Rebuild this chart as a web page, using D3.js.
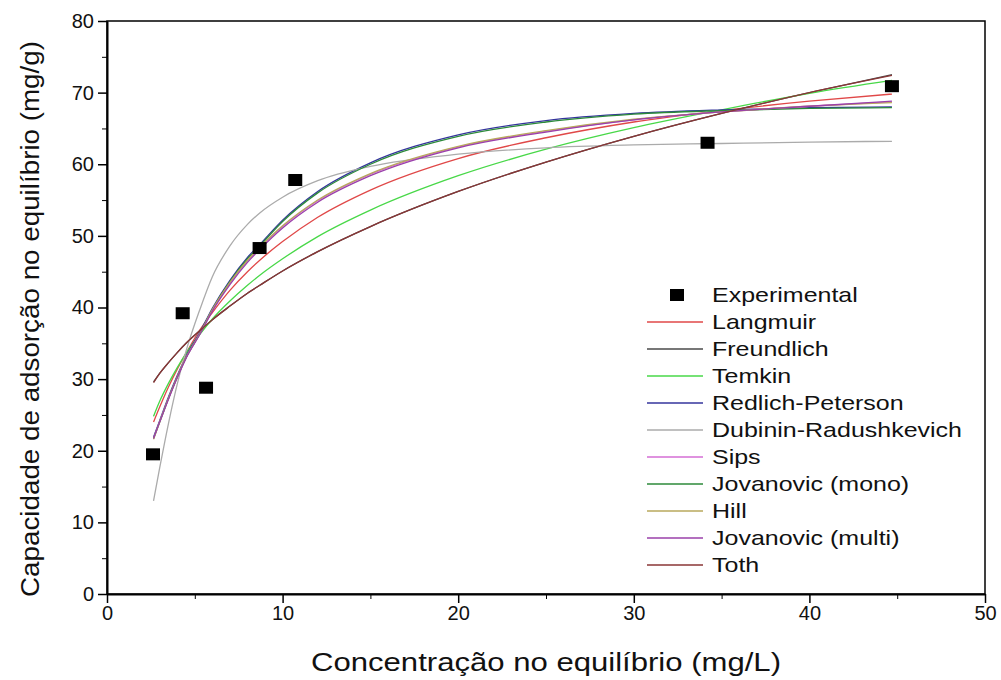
<!DOCTYPE html>
<html>
<head>
  <title>Isotermas de adsorção</title>
  <script src="https://d3js.org/d3.v7.min.js"></script>
  <style>
    body {
      margin: 0;
      background: #fff;
    }
    svg text {
      font-family: "Liberation Sans", Arial, Helvetica, sans-serif;
    }
    .axis path, .axis line {
      stroke: #000;
    }
    .axis text {
      font-size: 20px;
      fill: #111;
    }
  </style>
</head>
<body>

<div id="chart"></div>

<script>
  // experimental points
  const expC = [2.62, 4.31, 5.64, 8.69, 10.72, 34.2, 44.7];
  const expQ = [19.5, 39.2, 28.8, 48.3, 57.8, 63.0, 70.9];

  // model curves at these concentrations
  const sampleC = [2.65, 3, 3.5, 4, 4.5, 5.3, 6, 7, 8, 8.7, 10, 12, 15, 20, 25, 30, 35, 40, 44.7];

  const langmuir  = [24.0, 26.1, 28.9, 31.4, 33.6, 36.9, 39.3, 42.4, 45.0, 46.6, 49.2, 52.6, 56.4, 60.8, 63.7, 65.9, 67.5, 68.8, 69.8];
  const freundlich = [29.6, 30.8, 32.3, 33.7, 35.0, 36.8, 38.3, 40.2, 42.0, 43.1, 45.1, 47.8, 51.3, 56.2, 60.3, 63.9, 67.1, 70.0, 72.5];
  const temkin    = [24.8, 26.9, 29.4, 31.6, 33.6, 36.3, 38.4, 40.9, 43.1, 44.5, 46.8, 49.9, 53.6, 58.4, 62.1, 65.1, 67.6, 69.9, 71.7];
  const redlich   = [21.9, 24.2, 27.5, 30.5, 33.2, 36.6, 39.9, 43.8, 47.0, 48.8, 52.2, 56.2, 60.2, 64.1, 66.1, 67.1, 67.6, 67.9, 68.0];
  const dubinin   = [13.0, 17.6, 23.8, 29.3, 33.9, 39.8, 44.3, 48.6, 51.6, 53.2, 55.4, 57.7, 59.7, 61.4, 62.3, 62.7, 62.9, 63.1, 63.2];
  const sips      = [21.8, 24.1, 27.3, 30.3, 33.0, 36.4, 39.6, 43.4, 46.5, 48.3, 51.3, 54.9, 58.6, 62.4, 64.6, 66.2, 67.3, 68.1, 68.7];
  const jovMono   = [21.7, 24.0, 27.3, 30.3, 33.0, 36.4, 39.7, 43.6, 46.8, 48.6, 52.0, 56.0, 60.0, 63.9, 65.9, 67.0, 67.5, 67.8, 67.9];
  const hill      = [21.6, 24.0, 27.3, 30.3, 33.0, 36.4, 39.7, 43.5, 46.6, 48.4, 51.4, 55.0, 58.7, 62.5, 64.7, 66.3, 67.3, 68.1, 68.6];
  const jovMulti  = [21.7, 24.0, 27.2, 30.2, 32.9, 36.3, 39.5, 43.2, 46.3, 48.1, 51.1, 54.7, 58.4, 62.3, 64.5, 66.2, 67.3, 68.1, 68.8];
  const toth      = [29.5, 30.8, 32.3, 33.7, 35.0, 36.8, 38.3, 40.2, 42.0, 43.1, 45.1, 47.8, 51.3, 56.2, 60.3, 63.9, 67.1, 70.0, 72.4];

  const modelNames = ["Langmuir", "Freundlich", "Temkin", "Redlich-Peterson", "Dubinin-Radushkevich",
                      "Sips", "Jovanovic (mono)", "Hill", "Jovanovic (multi)", "Toth"];
  const modelValues = [langmuir, freundlich, temkin, redlich, dubinin, sips, jovMono, hill, jovMulti, toth];
  const modelColors = ["#e04848", "#4a4a4a", "#48d848", "#34349c", "#ababab",
                       "#d46ed4", "#2c8a3a", "#b8a85c", "#9a40aa", "#8a3636"];

  const xTicks = [0, 10, 20, 30, 40, 50];
  const yTicks = [0, 10, 20, 30, 40, 50, 60, 70, 80];

  const width = 1001;
  const height = 680;
  const margin = { top: 21, right: 16, bottom: 86, left: 107 };
  const innerWidth = width - margin.left - margin.right;
  const innerHeight = height - margin.top - margin.bottom;

  const svg = d3.select("#chart")
    .append("svg")
    .attr("width", width)
    .attr("height", height);

  const g = svg.append("g")
    .attr("transform", `translate(${margin.left},${margin.top})`);

  const x = d3.scaleLinear().domain([0, 50]).range([0, innerWidth]);
  const y = d3.scaleLinear().domain([0, 80]).range([innerHeight, 0]);

  // frame
  g.append("rect")
    .attr("width", innerWidth)
    .attr("height", innerHeight)
    .attr("fill", "none")
    .attr("stroke", "#000")
    .attr("stroke-width", 1.5);

  // minor ticks
  g.append("g")
    .attr("class", "axis")
    .attr("transform", `translate(0,${innerHeight})`)
    .call(d3.axisBottom(x).tickValues(d3.range(5, 50, 10)).tickSize(5).tickFormat(""))
    .call(a => a.select(".domain").remove());
  g.append("g")
    .attr("class", "axis")
    .call(d3.axisLeft(y).tickValues(d3.range(5, 80, 10)).tickSize(5).tickFormat(""))
    .call(a => a.select(".domain").remove());

  // major axes
  const xAxis = g.append("g")
    .attr("class", "axis")
    .attr("transform", `translate(0,${innerHeight})`)
    .call(d3.axisBottom(x).tickValues(xTicks).tickSize(9).tickSizeOuter(0).tickPadding(3));
  xAxis.select(".domain").attr("stroke-width", 2);
  xAxis.selectAll(".tick line").attr("stroke-width", 1.5);

  const yAxis = g.append("g")
    .attr("class", "axis")
    .call(d3.axisLeft(y).tickValues(yTicks).tickSize(9).tickSizeOuter(0).tickPadding(4));
  yAxis.select(".domain").attr("stroke-width", 2);
  yAxis.selectAll(".tick line").attr("stroke-width", 1.5);

  // curves
  const line = d3.line()
    .x((d, i) => x(sampleC[i]))
    .y(d => y(d))
    .curve(d3.curveMonotoneX);

  g.selectAll(".model")
    .data(modelValues)
    .enter()
    .append("path")
    .attr("class", "model")
    .attr("d", d => line(d))
    .attr("fill", "none")
    .attr("stroke", (d, i) => modelColors[i])
    .attr("stroke-width", 1.3);

  // experimental squares
  g.selectAll(".pt")
    .data(expC)
    .enter()
    .append("rect")
    .attr("class", "pt")
    .attr("x", d => x(d) - 7)
    .attr("y", (d, i) => y(expQ[i]) - 6)
    .attr("width", 14)
    .attr("height", 12)
    .attr("fill", "#000");

  // legend (text a bit wider than plain Arial, as in the figure)
  const legend = svg.append("g")
    .attr("transform", "translate(647,295)");

  legend.append("rect")
    .attr("x", 23)
    .attr("y", -6)
    .attr("width", 14)
    .attr("height", 12)
    .attr("fill", "#000");
  legend.append("text")
    .attr("transform", "translate(65,7) scale(1.19,1)")
    .style("font-size", "21px")
    .attr("fill", "#111")
    .text("Experimental");

  const rows = legend.selectAll(".leg")
    .data(modelNames)
    .enter()
    .append("g")
    .attr("class", "leg")
    .attr("transform", (d, i) => `translate(0,${27 + i * 27})`);

  rows.append("line")
    .attr("x1", 0)
    .attr("x2", 56)
    .attr("stroke", (d, i) => modelColors[i])
    .attr("stroke-width", 1.3);

  rows.append("text")
    .attr("transform", "translate(65,7) scale(1.19,1)")
    .style("font-size", "21px")
    .attr("fill", "#111")
    .text(d => d);

  // axis titles
  svg.append("text")
    .attr("text-anchor", "middle")
    .attr("x", 546)
    .attr("y", 671)
    .attr("textLength", 470)
    .attr("lengthAdjust", "spacingAndGlyphs")
    .style("font-size", "26px")
    .attr("fill", "#111")
    .text("Concentração no equilíbrio (mg/L)");

  svg.append("text")
    .attr("text-anchor", "middle")
    .attr("transform", "translate(39,319) rotate(-90)")
    .attr("textLength", 556)
    .attr("lengthAdjust", "spacingAndGlyphs")
    .style("font-size", "26px")
    .attr("fill", "#111")
    .text("Capacidade de adsorção no equilíbrio (mg/g)");
</script>

</body>
</html>
